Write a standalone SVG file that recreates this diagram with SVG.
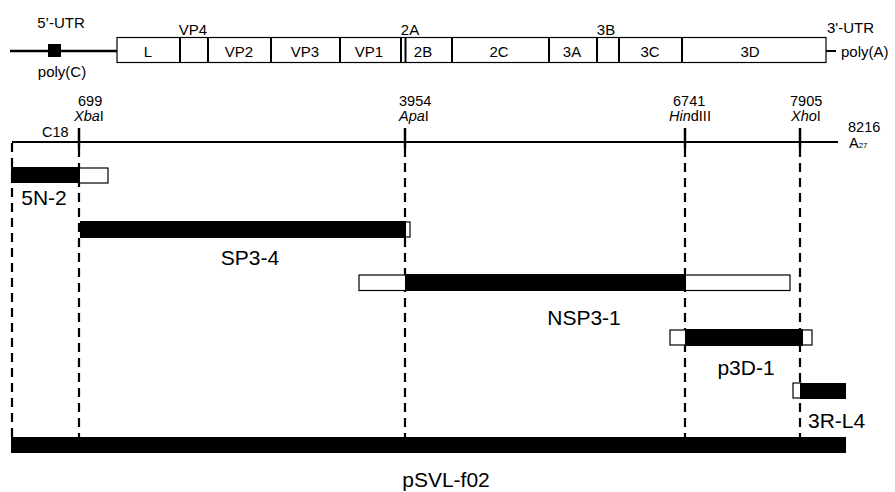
<svg xmlns="http://www.w3.org/2000/svg" width="895" height="492" viewBox="0 0 895 492">
<style>
text{font-family:"Liberation Sans",Arial,sans-serif;fill:#000}
.s{font-size:14.5px}
.m{font-size:15px}
.l{font-size:21px}
.box{fill:#fff;stroke:#000;stroke-width:1.2}
.div{stroke:#000;stroke-width:2}
.dash{stroke:#000;stroke-width:2.2;stroke-dasharray:9 6;fill:none}
.wb{fill:#fff;stroke:#000;stroke-width:1.2}
.bb{fill:#000}
</style>
<rect width="895" height="492" fill="#fff"/>
<g id="genome">
<line x1="10" y1="51" x2="117" y2="51" stroke="#000" stroke-width="2.5"/>
<rect x="48" y="44" width="13" height="13" fill="#000"/>
<rect class="box" x="117" y="37.5" width="709" height="25"/>
<line x1="826" y1="51" x2="836" y2="51" stroke="#000" stroke-width="2"/>
<g class="div">
<line x1="180" y1="37.5" x2="180" y2="62.5"/>
<line x1="208" y1="37.5" x2="208" y2="62.5"/>
<line x1="271" y1="37.5" x2="271" y2="62.5"/>
<line x1="340" y1="37.5" x2="340" y2="62.5"/>
<line x1="401" y1="37.5" x2="401" y2="62.5"/>
<line x1="405.5" y1="37.5" x2="405.5" y2="62.5"/>
<line x1="452" y1="37.5" x2="452" y2="62.5"/>
<line x1="549" y1="37.5" x2="549" y2="62.5"/>
<line x1="597" y1="37.5" x2="597" y2="62.5"/>
<line x1="619" y1="37.5" x2="619" y2="62.5"/>
<line x1="682" y1="37.5" x2="682" y2="62.5"/>
</g>
<g class="m" text-anchor="middle">
<text x="148" y="57">L</text>
<text x="239" y="57">VP2</text>
<text x="305" y="57">VP3</text>
<text x="369" y="57">VP1</text>
<text x="423" y="57">2B</text>
<text x="499" y="57">2C</text>
<text x="572" y="57">3A</text>
<text x="650" y="57">3C</text>
<text x="750" y="57">3D</text>
<text x="193" y="35">VP4</text>
<text x="410" y="35">2A</text>
<text x="606" y="35">3B</text>
<text x="61" y="28">5’-UTR</text>
<text x="62" y="77">poly(C)</text>
</g>
<text class="m" x="827" y="33">3'-UTR</text>
<text class="m" x="841" y="57">poly(A)</text>
</g>
<g id="map">
<line x1="12" y1="142" x2="838" y2="142" stroke="#000" stroke-width="2.2"/>
<g stroke="#000" stroke-width="2.5">
<line x1="79" y1="128" x2="79" y2="148"/>
<line x1="405" y1="128" x2="405" y2="148"/>
<line x1="685" y1="128" x2="685" y2="148"/>
<line x1="800" y1="128" x2="800" y2="148"/>
</g>
<g class="s">
<text x="78" y="106">699</text>
<text x="74" y="121"><tspan font-style="italic">Xba</tspan>I</text>
<text x="399" y="106">3954</text>
<text x="399" y="121"><tspan font-style="italic">Apa</tspan>I</text>
<text x="673" y="106">6741</text>
<text x="669" y="121"><tspan font-style="italic">Hin</tspan>dIII</text>
<text x="790" y="106">7905</text>
<text x="791" y="121"><tspan font-style="italic">Xho</tspan>I</text>
<text x="42" y="137">C18</text>
<text x="848" y="132">8216</text>
<text x="849" y="148">A<tspan font-size="8">27</tspan></text>
</g>
</g>
<g id="connectors">
<line class="dash" x1="12" y1="143" x2="12" y2="437"/>
<line class="dash" x1="79" y1="148" x2="79" y2="437"/>
<line class="dash" x1="405" y1="148" x2="405" y2="437"/>
<line class="dash" x1="685" y1="148" x2="685" y2="437"/>
<line class="dash" x1="800" y1="148" x2="800" y2="437"/>
</g>
<g id="f5N-2">
<rect class="wb" x="79" y="168" width="29" height="15"/>
<rect class="bb" x="11" y="167" width="69" height="16"/>
<text class="l" x="44" y="205" text-anchor="middle">5N-2</text>
</g>
<g id="fSP3-4">
<rect class="wb" x="404" y="222" width="6" height="15"/>
<rect class="bb" x="80" y="221" width="326" height="17"/>
<text class="l" x="250" y="265" text-anchor="middle">SP3-4</text>
</g>
<g id="fNSP3-1">
<rect class="wb" x="359" y="275" width="47" height="15.5"/>
<rect class="wb" x="684" y="275" width="106" height="15.5"/>
<rect class="bb" x="405" y="274" width="281" height="17"/>
<text class="l" x="584" y="325" text-anchor="middle">NSP3-1</text>
</g>
<g id="fp3D-1">
<rect class="wb" x="670" y="330" width="16" height="15"/>
<rect class="wb" x="801" y="330" width="11" height="15"/>
<rect class="bb" x="685" y="329" width="118" height="17"/>
<text class="l" x="746" y="375" text-anchor="middle">p3D-1</text>
</g>
<g id="f3R-L4">
<rect class="wb" x="793" y="383" width="8" height="15"/>
<rect class="bb" x="800" y="383" width="46" height="16"/>
<text class="l" x="808" y="428">3R-L4</text>
</g>
<g id="fpSVL-f02">
<rect class="bb" x="11" y="437" width="835" height="16"/>
<text class="l" x="446" y="487" text-anchor="middle" font-size="22">pSVL-f02</text>
</g>
</svg>
